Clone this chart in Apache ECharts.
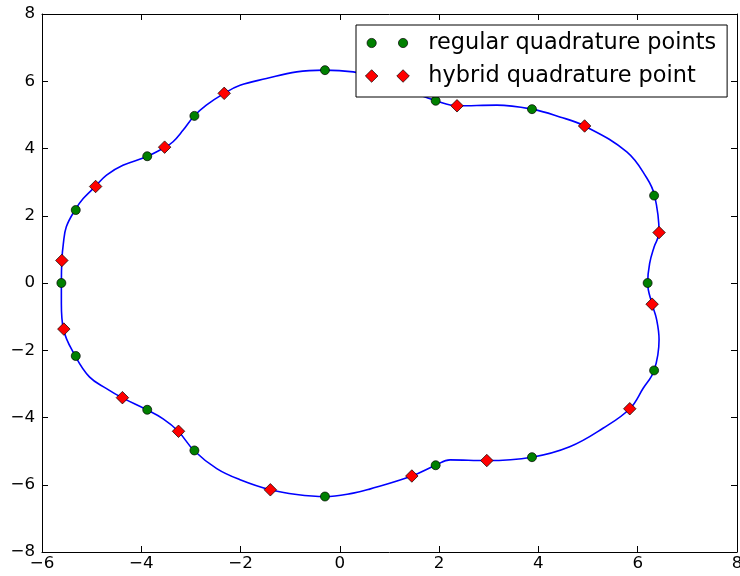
<!DOCTYPE html>
<html>
<head>
<meta charset="utf-8">
<script src="https://cdn.jsdelivr.net/npm/echarts@6/dist/echarts.min.js"></script>
<style>
  html, body { margin: 0; padding: 0; background: #fff; }
  #chart { width: 740px; height: 576px; }
</style>
</head>
<body>
<div id="chart"></div>
<script>
// Closed boundary curve, traced counter-clockwise (start/end point sits under the legend)
const curveX = [1.00, 0.60, 0.27, -0.32, -0.87, -1.48, -2.01, -2.33, -2.69, -2.94,
  -3.16, -3.36, -3.53, -3.89, -4.37, -4.70, -4.92, -5.17, -5.33, -5.51,
  -5.57, -5.60, -5.61, -5.61, -5.57, -5.33, -5.04, -4.70, -4.39, -3.89,
  -3.56, -3.26, -2.94, -2.48, -2.01, -1.40, -0.87, -0.30, 0.27, 0.60,
  1.45, 1.93, 2.22, 2.96, 3.87, 4.63, 5.30, 5.84, 6.11, 6.33,
  6.43, 6.38, 6.29, 6.20, 6.24, 6.33, 6.43, 6.34, 6.18, 5.78,
  4.93, 4.43, 3.87, 3.16, 2.36, 1.93, 1.61, 1.00];
const curveY = [5.98, 6.16, 6.28, 6.33, 6.28, 6.08, 5.88, 5.64, 5.29, 4.96,
  4.54, 4.20, 4.03, 3.76, 3.50, 3.21, 2.88, 2.51, 2.18, 1.67,
  1.17, 0.67, 0.00, -0.61, -1.36, -2.17, -2.80, -3.14, -3.41, -3.77,
  -4.04, -4.40, -4.98, -5.52, -5.85, -6.15, -6.29, -6.35, -6.25, -6.13,
  -5.74, -5.42, -5.26, -5.28, -5.18, -4.87, -4.32, -3.74, -3.13, -2.60,
  -1.68, -1.08, -0.63, 0.00, 0.58, 1.07, 1.50, 2.60, 3.13, 3.90,
  4.67, 4.94, 5.17, 5.29, 5.27, 5.42, 5.59, 5.98];

// Regular quadrature points
const regularX = [-0.30, 1.93, 3.87, 6.33, 6.20, 6.33, 3.87, 1.93,
  -0.30, -2.93, -3.88, -5.32, -5.61, -5.32, -3.88, -2.93];
const regularY = [6.33, 5.42, 5.17, 2.60, 0.00, -2.60, -5.18, -5.42,
  -6.35, -4.98, -3.77, -2.17, 0.00, 2.17, 3.77, 4.97];

// Hybrid quadrature points
const hybridX = [-2.33, -3.53, -4.92, -5.60, -5.56, -4.38, -3.25, -1.40,
  1.45, 2.96, 5.84, 6.29, 6.43, 4.93, 2.36];
const hybridY = [5.64, 4.04, 2.87, 0.67, -1.37, -3.41, -4.41, -6.15,
  -5.74, -5.28, -3.74, -0.63, 1.50, 4.67, 5.27];

// Axis tick values
const xTicks = [-6, -4, -2, 0, 2, 4, 6, 8];
const yTicks = [-8, -6, -4, -2, 0, 2, 4, 6, 8];

const seriesNames = ['regular quadrature points', 'hybrid quadrature point'];

const FONT = 'DejaVu Sans';
const pairs = (xs, ys) => xs.map((x, i) => [x, ys[i]]);
const minus = v => String(v).replace('-', '\u2212');

// Legend icons: two markers per entry, sharing one bounding box
const circleIcon = 'path://M0,0M44.4,12.7M1.7,6.35a4.65,4.65 0 1,0 9.3,0a4.65,4.65 0 1,0 -9.3,0z' +
  'M33.4,6.35a4.65,4.65 0 1,0 9.3,0a4.65,4.65 0 1,0 -9.3,0z';
const diamondIcon = 'path://M0,6.35L6.35,0L12.7,6.35L6.35,12.7z' +
  'M31.7,6.35L38.05,0L44.4,6.35L38.05,12.7z';

function valueAxis(pos, ticks, withLabels) {
  return {
    type: 'value',
    position: pos,
    min: ticks[0],
    max: ticks[ticks.length - 1],
    interval: ticks[1] - ticks[0],
    axisLine: { show: true, onZero: false, lineStyle: { color: '#000', width: 1 } },
    axisTick: { show: true, inside: true, length: 6, lineStyle: { color: '#000', width: 1 } },
    axisLabel: {
      show: withLabels,
      formatter: minus,
      color: '#000',
      fontFamily: FONT,
      fontSize: 16.7,
      margin: (pos === 'bottom') ? 3 : 7
    },
    splitLine: { show: false }
  };
}

const chart = echarts.init(document.getElementById('chart'), null, { renderer: 'canvas' });
chart.setOption({
  animation: false,
  backgroundColor: '#fff',
  grid: { left: 42, right: 3, top: 14, bottom: 24, containLabel: false, outerBoundsMode: 'none' },
  xAxis: [valueAxis('bottom', xTicks, true), valueAxis('top', xTicks, false)],
  yAxis: [valueAxis('left', yTicks, true), valueAxis('right', yTicks, false)],
  legend: {
    orient: 'vertical',
    left: 356,
    top: 25,
    padding: [7, 11, 10, 9],
    itemGap: 11,
    itemWidth: 44,
    itemHeight: 13,
    backgroundColor: '#fff',
    borderColor: '#000',
    borderWidth: 1,
    borderRadius: 0,
    selectedMode: false,
    textStyle: {
      color: '#000',
      fontFamily: FONT,
      fontSize: 22.4,
      lineHeight: 22,
      padding: [0, 0, 0, 14]
    },
    data: [
      { name: seriesNames[0], icon: circleIcon,
        itemStyle: { color: '#008000', borderColor: '#000', borderWidth: 0.7 } },
      { name: seriesNames[1], icon: diamondIcon,
        itemStyle: { color: '#ff0000', borderColor: '#000', borderWidth: 0.7 } }
    ]
  },
  series: [
    {
      name: 'boundary',
      type: 'line',
      xAxisIndex: 0,
      yAxisIndex: 0,
      data: pairs(curveX, curveY),
      showSymbol: false,
      smooth: 0.4,
      lineStyle: { color: '#0000ff', width: 1.6 },
      silent: true,
      z: 2
    },
    {
      name: seriesNames[0],
      type: 'scatter',
      xAxisIndex: 0,
      yAxisIndex: 0,
      data: pairs(regularX, regularY),
      symbol: 'circle',
      symbolSize: 9,
      itemStyle: { color: '#008000', borderColor: '#000', borderWidth: 0.7, opacity: 1 },
      z: 3
    },
    {
      name: seriesNames[1],
      type: 'scatter',
      xAxisIndex: 0,
      yAxisIndex: 0,
      data: pairs(hybridX, hybridY),
      symbol: 'diamond',
      symbolSize: 12.5,
      itemStyle: { color: '#ff0000', borderColor: '#000', borderWidth: 0.7, opacity: 1 },
      z: 4
    }
  ]
});
</script>
</body>
</html>
